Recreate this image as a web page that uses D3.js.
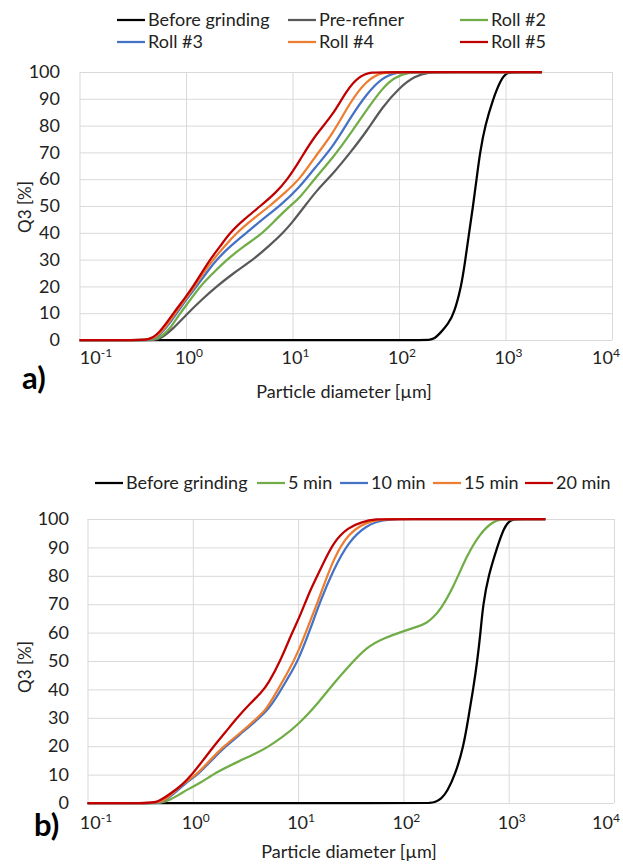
<!DOCTYPE html>
<html>
<head>
<meta charset="utf-8">
<script src="https://cdn.jsdelivr.net/npm/d3@7"></script>
<style>
  body { margin: 0; background: #fff; }
  svg text { font-family: Lato, "Open Sans", sans-serif; fill: #222; }
</style>
</head>
<body>
<svg id="chart" width="623" height="864"></svg>
<script>
// particle diameter [um] -> Q3 [%]
let xTicks = [0.1, 1, 10, 100, 1000, 10000]
let xTickExp = ['-1', '0', '1', '2', '3', '4']
let yTicks = [0, 10, 20, 30, 40, 50, 60, 70, 80, 90, 100]

// panel a)
let aNames = ['Before grinding', 'Pre-refiner', 'Roll #2', 'Roll #3', 'Roll #4', 'Roll #5']
let aColors = ['#000000', '#595959', '#70ad47', '#4472c4', '#ed7d31', '#c00000']
let aBefore = [[0.1, 0], [150, 0], [195, 0], [215, 0.5], [243, 2.5], [290, 6], [329, 10], [385, 20], [420, 30],
    [455, 40], [496, 50], [535, 60], [576, 70], [643, 80], [765, 90], [900, 97], [1026, 100], [1300, 100],
    [2200, 100]]
let aPreRefiner = [[0.1, 0], [0.42, 0], [0.52, 0], [0.6, 1], [0.75, 4], [1.01, 9.5], [1.4, 15], [1.94, 20],
    [2.8, 25], [4.28, 30], [6, 35], [8.18, 40], [10, 44], [12.5, 49], [17, 56], [24, 62], [35, 70], [50, 78],
    [70, 87], [100, 94], [140, 98.5], [195, 100], [260, 100], [2200, 100]]
let aRoll2 = [[0.1, 0], [0.4, 0], [0.5, 0], [0.6, 1.5], [0.7, 4], [0.88, 10], [1.1, 15], [1.35, 20], [1.8, 25],
    [2.41, 30], [3.5, 35], [5.31, 40], [7, 45], [9.44, 50], [11.7, 53], [16, 60], [24, 68], [35, 77], [50, 86],
    [70, 94], [90, 98], [126, 100], [170, 100], [2200, 100]]
let aRoll3 = [[0.1, 0], [0.38, 0], [0.48, 0], [0.6, 2.5], [0.82, 10], [1.0, 15], [1.26, 20], [1.55, 25],
    [1.94, 30], [2.6, 35], [3.7, 40], [5.2, 45], [7.6, 50], [11.7, 57], [16, 64], [24, 72], [35, 83], [50, 92],
    [70, 98], [96, 100], [130, 100], [2200, 100]]
let aRoll4 = [[0.1, 0], [0.37, 0], [0.47, 0], [0.6, 3], [0.79, 10], [1.0, 15.5], [1.21, 20], [1.45, 25],
    [1.8, 30], [2.3, 35], [2.99, 40], [4.2, 45], [6.13, 50], [8.5, 55], [11.7, 60], [16, 68], [24, 77], [35, 89],
    [50, 97], [69, 100], [95, 100], [2200, 100]]
let aRoll5 = [[0.1, 0], [0.35, 0], [0.44, 0], [0.55, 2], [0.76, 10], [0.95, 15], [1.17, 20], [1.4, 25],
    [1.68, 30], [2.1, 35], [2.58, 40], [3.5, 45], [5.0, 50], [7, 55], [9, 60], [11.7, 67], [16, 76], [24, 84],
    [32, 93], [42, 98.5], [55, 100], [75, 100], [2200, 100]]

// panel b)
let bNames = ['Before grinding', '5 min', '10 min', '15 min', '20 min']
let bColors = ['#000000', '#70ad47', '#4472c4', '#ed7d31', '#c00000']
let bBefore = [[0.1, 0], [140, 0], [180, 0], [200, 0.3], [230, 1.5], [260, 4], [311, 10], [373, 20], [414, 30],
    [460, 40], [503, 50], [540, 60], [571, 70], [641, 80], [776, 90], [900, 97], [1040, 100], [1300, 100],
    [2230, 100]]
let b5min = [[0.1, 0], [0.4, 0], [0.5, 0], [0.6, 1], [0.75, 3], [0.88, 4.7], [1.18, 7], [1.69, 11], [2.85, 15],
    [4, 17.5], [5.07, 19.5], [7, 23], [10, 27.5], [16.2, 36], [21.6, 42], [30, 48], [45, 55], [65, 58],
    [100, 60.5], [135, 62], [169, 63.5], [193, 65.5], [224, 68], [299, 76], [398, 87], [537, 95], [700, 99],
    [850, 100], [1100, 100], [2230, 100]]
let b10min = [[0.1, 0], [0.4, 0], [0.5, 0], [0.65, 3], [0.85, 7], [1.12, 10], [1.5, 15], [2.05, 20], [3, 25],
    [4.3, 30], [5.2, 33], [6.2, 37], [8, 44], [10, 50], [13, 61], [16.2, 71], [21.6, 82], [30, 92], [45, 98],
    [65, 99.7], [90, 100], [120, 100], [2230, 100]]
let b15min = [[0.1, 0], [0.4, 0], [0.5, 0], [0.65, 3.5], [0.85, 7.5], [1.09, 10], [1.45, 15], [1.97, 20],
    [2.9, 25], [4.1, 30], [5, 33], [6, 38], [8, 46], [10, 53], [13, 64], [16.2, 73], [21.6, 86], [30, 95],
    [45, 99], [60, 99.8], [80, 100], [110, 100], [2230, 100]]
let b20min = [[0.1, 0], [0.36, 0], [0.45, 0], [0.6, 3], [0.8, 6.5], [0.98, 10], [1.25, 15], [1.58, 20],
    [2.05, 25], [2.63, 30], [3.5, 35], [4.5, 39], [5.2, 42], [6.8, 50], [8.75, 60], [10.5, 66], [13, 75],
    [16.2, 82], [21.6, 92], [30, 97], [40, 99], [56, 100], [75, 100], [2230, 100]]

let svg = d3.select('#chart')

function drawPanel(p) {
    let x = d3.scaleLog().domain([0.1, 10000]).range([p.left, p.right])
    let y = d3.scaleLinear().domain([0, 100]).range([p.bottom, p.top])
    let g = svg.append('g')

    // horizontal grid + y labels
    let yAxis = g.append('g')
        .attr('transform', 'translate(' + p.left + ',0)')
        .call(d3.axisLeft(y).tickValues(yTicks).tickSize(-(p.right - p.left)).tickPadding(p.left - p.yLabelRight))
    yAxis.select('.domain').remove()
    yAxis.selectAll('line').attr('stroke', '#d9d9d9')
    yAxis.selectAll('text').attr('font-size', 18).attr('fill', '#222')
        .style('font-family', 'Lato, sans-serif')

    // vertical grid
    let xAxis = g.append('g')
        .attr('transform', 'translate(0,' + p.bottom + ')')
        .call(d3.axisBottom(x).tickValues(xTicks).tickSize(-(p.bottom - p.top)).tickFormat(''))
    xAxis.select('.domain').remove()
    xAxis.selectAll('line').attr('stroke', '#d9d9d9')

    // x labels with superscript, kept inside the picture at both ends
    let lab = g.selectAll('text.xlab').data(xTicks).enter().append('text')
        .attr('class', 'xlab')
        .attr('x', d => Math.min(Math.max(x(d) + 3, 96), 606))
        .attr('y', p.xLabelY)
        .attr('dy', '0.35em')
        .attr('text-anchor', 'middle')
        .attr('font-size', 18)
    lab.append('tspan').text('10')
    lab.append('tspan').attr('dy', -7).attr('font-size', 12).text((d, i) => xTickExp[i])

    let line = d3.line()
        .x(d => x(d[0]))
        .y(d => y(d[1]))
        .curve(d3.curveBasis)

    p.series.forEach((s, i) => {
        g.append('path')
            .attr('d', line(s))
            .attr('fill', 'none')
            .attr('stroke', p.colors[i])
            .attr('stroke-width', 2.25)
    })

    // legend
    p.names.forEach((name, i) => {
        let pos = p.legend[i]
        g.append('line')
            .attr('x1', pos[0]).attr('x2', pos[0] + 28)
            .attr('y1', pos[1]).attr('y2', pos[1])
            .attr('stroke', p.colors[i]).attr('stroke-width', 2.25)
        g.append('text')
            .attr('x', pos[0] + 31).attr('y', pos[1]).attr('dy', '0.35em')
            .attr('font-size', 18)
            .text(name)
    })

    g.append('text')
        .attr('transform', 'translate(' + p.yTitle[0] + ',' + p.yTitle[1] + ') rotate(-90)')
        .attr('text-anchor', 'middle').attr('dy', '0.35em')
        .attr('font-size', 17)
        .text('Q3 [%]')
    g.append('text')
        .attr('x', p.xTitle[0]).attr('y', p.xTitle[1]).attr('dy', '0.35em')
        .attr('text-anchor', 'middle')
        .attr('font-size', 18)
        .text('Particle diameter [µm]')
    g.append('text')
        .attr('x', p.tag[0]).attr('y', p.tag[1]).attr('dy', '0.35em')
        .attr('font-size', p.tag[2]).attr('font-weight', 'bold').style('fill', '#000')
        .text(p.tagText)
}

drawPanel({
    left: 79.5, right: 612, top: 72, bottom: 340, yLabelRight: 60, xLabelY: 358,
    series: [aBefore, aPreRefiner, aRoll2, aRoll3, aRoll4, aRoll5],
    names: aNames, colors: aColors,
    legend: [[117, 20], [288, 20], [460, 20], [117, 42], [288, 42], [460, 42]],
    yTitle: [25, 207], xTitle: [344, 392], tag: [22, 378, 31], tagText: 'a)'
})

drawPanel({
    left: 87.5, right: 614, top: 519, bottom: 803, yLabelRight: 69, xLabelY: 823,
    series: [bBefore, b5min, b10min, b15min, b20min],
    names: bNames, colors: bColors,
    legend: [[95, 483], [257, 483], [340, 483], [433, 483], [525, 483]],
    yTitle: [25, 667], xTitle: [349, 852], tag: [34, 825, 31], tagText: 'b)'
})
</script>
</body>
</html>
